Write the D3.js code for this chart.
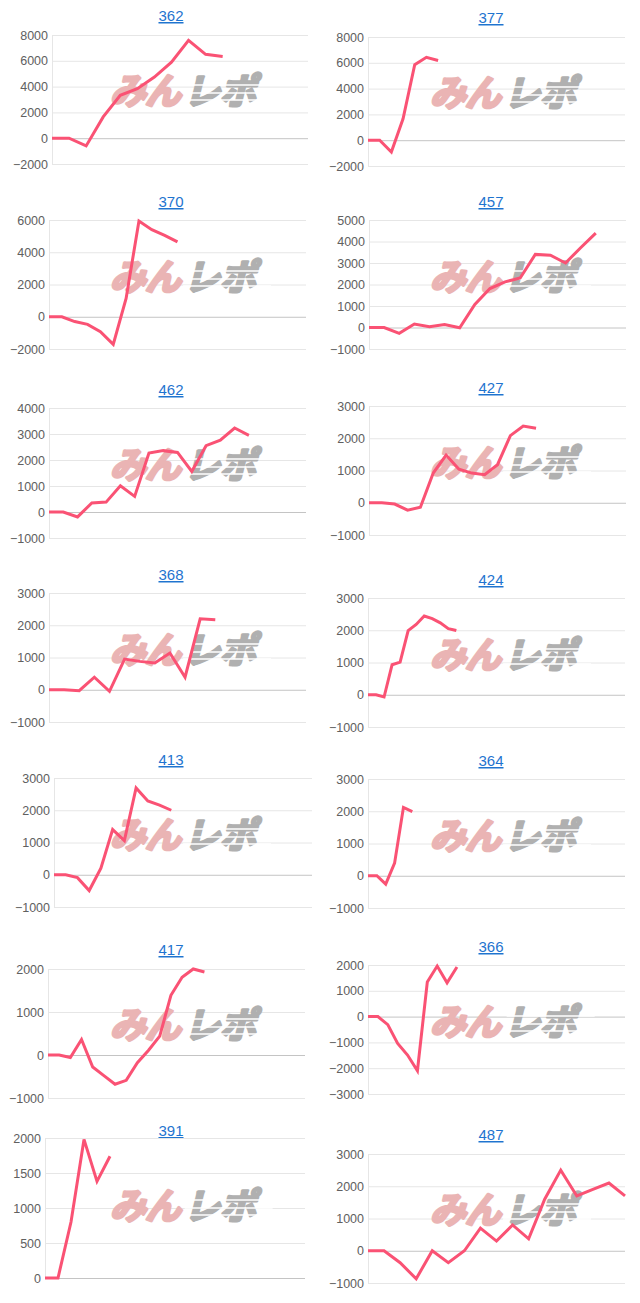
<!DOCTYPE html>
<html>
<head>
<meta charset="utf-8">
<script src="https://cdn.jsdelivr.net/npm/d3@7"></script>
<style>
  body { margin: 0; background: #fff; }
  svg { display: block; }
</style>
</head>
<body>
<div id="canvas"></div>
<script>
// chart titles (store numbers), left column then right column, row by row
const titles = ["362", "377", "370", "457", "462", "427", "368", "424", "413", "364", "417", "366", "391", "487"];

// daily cumulative values per store
const v362 = [0, 0, -600, 1650, 3320, 3840, 4740, 5900, 7580, 6500, 6340];
const v377 = [0, 0, -920, 1660, 5860, 6430, 6180];
const v370 = [0, 0, -300, -470, -930, -1710, 1130, 5940, 5400, 5050, 4640];
const v457 = [0, 0, -270, 160, 40, 140, -10, 1070, 1810, 2120, 2300, 3400, 3360, 3000, 3710, 4390];
const v462 = [0, 0, -190, 350, 380, 1010, 600, 2270, 2360, 2290, 1560, 2550, 2760, 3230, 2950];
const v427 = [0, 0, -40, -230, -140, 920, 1480, 1040, 920, 870, 1180, 2080, 2380, 2310];
const v368 = [0, 0, -30, 390, -50, 950, 880, 830, 1140, 390, 2200, 2170];
const v424 = [0, 0, -70, 930, 1010, 1990, 2180, 2440, 2360, 2230, 2050, 1990];
const v413 = [0, 0, -90, -490, 200, 1400, 1060, 2690, 2290, 2160, 2000];
const v364 = [0, 0, -260, 390, 2120, 1990];
const v417 = [0, 0, -60, 360, -280, -480, -680, -590, -180, 110, 440, 1390, 1810, 2000, 1930];
const v366 = [0, 0, -310, -1040, -1490, -2100, 1340, 1960, 1310, 1920];
const v391 = [0, 0, 800, 1980, 1380, 1740];
const v487 = [0, 0, -370, -870, 0, -370, 0, 700, 300, 800, 370, 1600, 2500, 1700, 1900, 2100, 1700];

const series = [v362, v377, v370, v457, v462, v427, v368, v424, v413, v364, v417, v366, v391, v487];

// number of x categories (days) on each chart
const slots = [16, 23, 21, 18, 19, 21, 18, 33, 23, 30, 24, 27, 21, 17];

// y axis ranges and tick steps
const yMin  = [-2000, -2000, -2000, -1000, -1000, -1000, -1000, -1000, -1000, -1000, -1000, -3000, 0, -1000];
const yMax  = [8000, 8000, 6000, 5000, 4000, 3000, 3000, 3000, 3000, 3000, 2000, 2000, 2000, 3000];
const yStep = [2000, 2000, 2000, 1000, 1000, 1000, 1000, 1000, 1000, 1000, 1000, 1000, 500, 1000];

// layout of each small chart (plot box + title line)
const boxes = [
  {l: 52,  r: 308, t: 35,   b: 164,  ty: 16},
  {l: 368, r: 625, t: 37,   b: 166,  ty: 18},
  {l: 49,  r: 306, t: 220,  b: 349,  ty: 202},
  {l: 369, r: 626, t: 220,  b: 349,  ty: 202},
  {l: 49,  r: 306, t: 408,  b: 538,  ty: 390},
  {l: 369, r: 626, t: 406,  b: 535,  ty: 388},
  {l: 49,  r: 306, t: 593,  b: 722,  ty: 575},
  {l: 368, r: 625, t: 598,  b: 727,  ty: 580},
  {l: 54,  r: 312, t: 778,  b: 907,  ty: 760},
  {l: 368, r: 625, t: 779,  b: 908,  ty: 761},
  {l: 48,  r: 305, t: 969,  b: 1098, ty: 950},
  {l: 368, r: 625, t: 965,  b: 1094, ty: 947},
  {l: 45,  r: 305, t: 1138, b: 1278, ty: 1131},
  {l: 368, r: 625, t: 1154, b: 1283, ty: 1135}
];

const width = 640, height = 1303;
const font = "'Liberation Sans', Arial, Helvetica, sans-serif";

let svg = d3.select("#canvas").append("svg")
  .attr("width", width)
  .attr("height", height);

titles.forEach((name, i) => drawChart(i));

function drawChart(i) {
  let box = boxes[i];
  let colX = (i % 2) * 320;
  let data = series[i];

  let x = d3.scalePoint()
    .domain(d3.range(slots[i]))
    .range([box.l, box.r]);

  let y = d3.scaleLinear()
    .domain([yMin[i], yMax[i]])
    .range([box.b, box.t]);

  let g = svg.append("g").attr("class", "chart");

  // title (link style)
  g.append("text")
    .attr("x", colX + 171)
    .attr("y", box.ty + 5)
    .attr("text-anchor", "middle")
    .attr("font-family", font)
    .attr("font-size", 15)
    .attr("fill", "#1f74cf")
    .attr("text-decoration", "underline")
    .text(titles[i]);

  // gridlines + tick labels
  let ticks = d3.range(yMin[i], yMax[i] + 1, yStep[i]);
  let yAxis = d3.axisLeft(y)
    .tickValues(ticks)
    .tickSize(-(box.r - box.l))
    .tickPadding(4)
    .tickFormat(d3.format("d"));

  let ax = g.append("g")
    .attr("transform", "translate(" + box.l + ",0)")
    .call(yAxis);

  ax.select(".domain").attr("stroke", "#e6e6e6");
  ax.selectAll(".tick line")
    .attr("stroke", d => d === 0 ? "#c4c4c4" : "#e6e6e6");
  ax.selectAll(".tick text")
    .attr("font-family", font)
    .attr("font-size", 12.5)
    .attr("fill", "#606060");

  // watermark
  let wm = g.append("g")
    .attr("transform", "translate(" + (colX + 110) + "," + (box.ty + 88) + ") skewX(-14)");
  wm.append("text")
    .attr("font-family", "'Noto Sans CJK JP', sans-serif")
    .attr("font-weight", 700)
    .attr("font-size", 36)
    .attr("fill", "#eab4b4")
    .attr("stroke", "#eab4b4")
    .attr("stroke-width", 3)
    .attr("stroke-linejoin", "round")
    .attr("letter-spacing", -1)
    .text("みん");
  wm.append("text")
    .attr("x", 74)
    .attr("font-family", "'Noto Sans CJK JP', sans-serif")
    .attr("font-weight", 700)
    .attr("font-size", 36)
    .attr("fill", "#b0b0b0")
    .attr("stroke", "#b0b0b0")
    .attr("stroke-width", 3)
    .attr("stroke-linejoin", "round")
    .attr("letter-spacing", 0)
    .text("レポ");
  // speed stripes over the grey part
  [-19, -11, -4].forEach(s => {
    wm.append("line")
      .attr("x1", 72).attr("x2", 160)
      .attr("y1", s).attr("y2", s)
      .attr("stroke", "#fff")
      .attr("stroke-width", 1.3);
  });

  // the line
  let line = d3.line()
    .x((d, j) => x(j))
    .y(d => y(d));

  g.append("path")
    .datum(data)
    .attr("fill", "none")
    .attr("stroke", "#fa5274")
    .attr("stroke-width", 3)
    .attr("d", line);
}
</script>
</body>
</html>
